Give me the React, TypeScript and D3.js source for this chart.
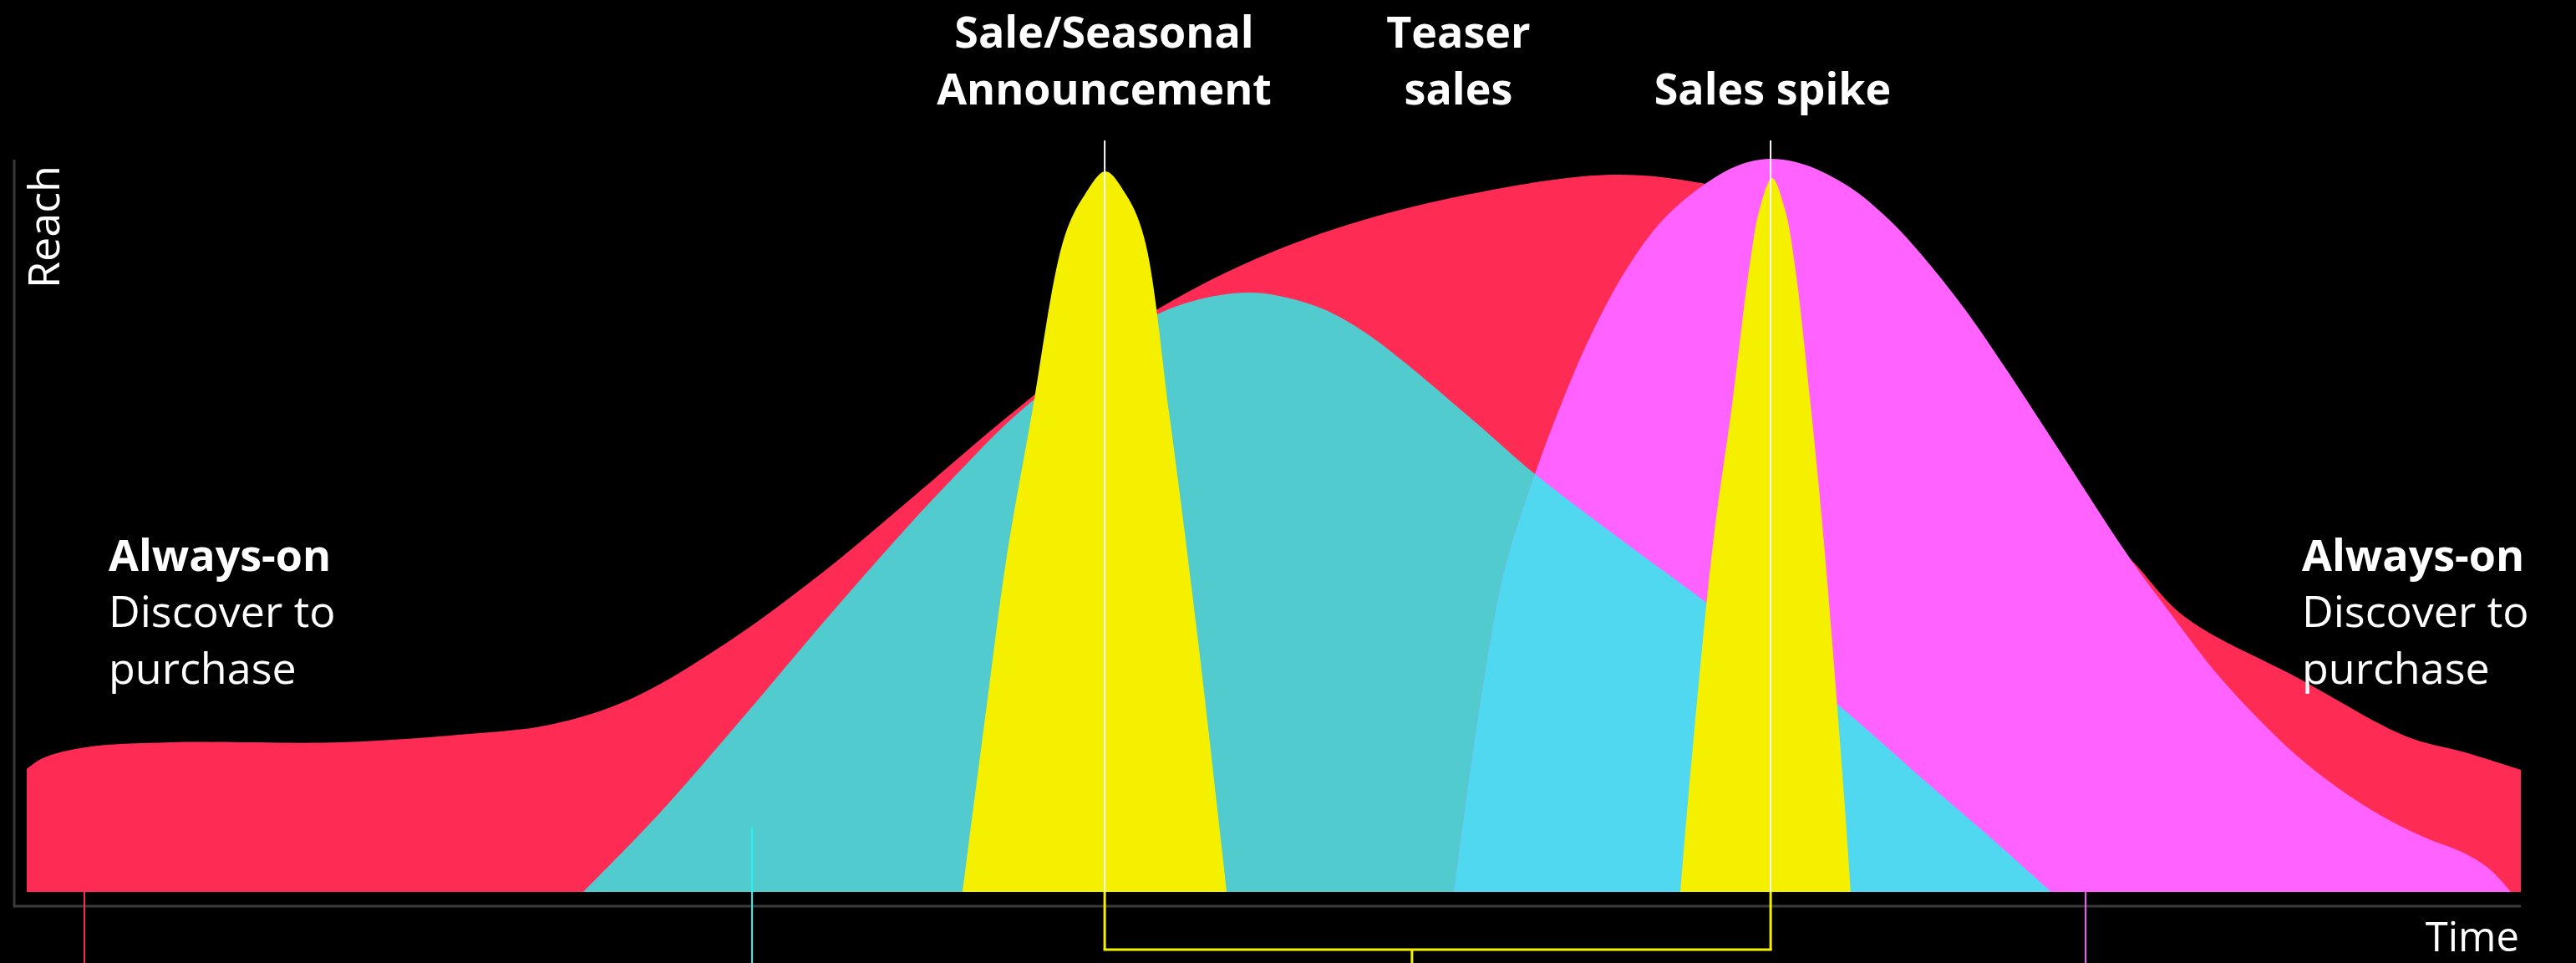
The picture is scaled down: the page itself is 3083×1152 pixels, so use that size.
import React from 'react';
import * as d3 from 'd3';

const W = 3083;
const H = 1152;

// time (0-100) / reach (0-100) pairs
const alwaysOnSeries: [number, number][] = [
  [0, 16.76], [0.64, 18.24], [2.35, 19.73], [5.76, 20.41], [12.6, 20.41], [17.72, 21.55],
  [20.97, 22.81], [24.15, 26.23], [28.01, 33.87], [31.86, 43.44], [35.44, 53.59], [39.26, 64.65],
  [42.48, 73.2], [45.16, 79.13], [48.51, 85.18], [52.53, 90.54], [57.72, 95.1], [63.55, 97.83],
  [67.3, 96.58], [70.95, 93.16], [75.98, 78.34], [81.01, 56.1], [84.35, 45.38], [86.53, 37.51],
  [91.06, 29.19], [95.41, 21.21], [97.76, 19.04], [100, 16.65],
];

const teaserSeries: [number, number][] = [
  [22.31, 0], [25.43, 10.95], [28.78, 24.06], [32.36, 38.43], [35.44, 50.29], [37.49, 57.7],
  [39.53, 64.65], [42.48, 72.63], [45.26, 78.68], [47.17, 80.96], [49.01, 81.76], [50.52, 81.07],
  [52.16, 79.25], [53.67, 76.28], [55.18, 72.41], [58.16, 63.85], [60.47, 57.01], [64.12, 47.55],
  [66.77, 40.93], [69.61, 33.52], [72.7, 25.31], [75.98, 15.51], [78.66, 7.64], [81.17, 0],
];

const salesSeries: [number, number][] = [
  [57.22, 0], [58.26, 25.43], [59.23, 43.67], [60.47, 57.01], [61.57, 66.93], [62.65, 75.48],
  [64.12, 84.83], [65.63, 91.79], [67.34, 96.69], [68.61, 99.09], [69.88, 100], [71.29, 99.2],
  [73.1, 96.12], [74.64, 91.79], [75.98, 86.89], [77.66, 79.7], [79.33, 71.49], [81.74, 58.95],
  [84.35, 45.38], [86.03, 37.63], [87.7, 30.22], [89.38, 23.95], [91.06, 18.47], [92.73, 14.03],
  [94.41, 10.38], [96.08, 7.53], [97.76, 5.25], [98.76, 3.08], [99.6, 0],
];

const announceSpike: [number, number][] = [
  [37.52, 0], [38.49, 25.43], [39.26, 45.04], [40.27, 64.65], [41.61, 89.4], [42.42, 95.1],
  [43.25, 98.29], [44.08, 95.1], [44.79, 89.4], [45.83, 64.65], [46.97, 34.09], [48.11, 0],
];

const salesSpike: [number, number][] = [
  [66.3, 0], [66.63, 13.34], [67.61, 47.55], [68.38, 66.59], [69.08, 85.52], [69.48, 93.16],
  [69.98, 97.38], [70.49, 93.16], [70.89, 85.52], [71.52, 66.59], [72.06, 47.55], [72.86, 13.34],
  [73.13, 0],
];

// event markers (time)
const announceTime = 43.22;
const salesSpikeTime = 69.92;
const bracketMidTime = 55.54;
const markerTicks = [
  { t: 2.31, color: '#FE2C55', top: 0 },
  { t: 29.08, color: '#25F4EE', top: 8.9 },
  { t: 82.55, color: '#FF62FF', top: 0 },
];

const topLabels = [
  { t: 43.2, lines: ['Sale/Seasonal', 'Announcement'] },
  { t: 57.4, lines: ['Teaser', 'sales'] },
  { t: 70.0, lines: ['', 'Sales spike'] },
];

const sideLabel = ['Always-on', 'Discover to', 'purchase'];

const COLORS = {
  red: '#FE2C55',
  teal: '#51CBCE',
  overlap: '#50D8F0',
  magenta: '#FF62FF',
  yellow: '#F5F000',
  axis: '#3A3A3A',
};

export default function App() {
  const x = d3.scaleLinear().domain([0, 100]).range([32, 3017]);
  const y = d3.scaleLinear().domain([0, 100]).range([1067, 190]);

  const area = d3
    .area<[number, number]>()
    .x((d) => x(d[0]))
    .y0(y(0))
    .y1((d) => y(d[1]))
    .curve(d3.curveCatmullRom.alpha(0.5));

  const font = "'Open Sans', sans-serif";
  const baseY = y(0);

  return (
    <svg
      width={W}
      height={H}
      style={{ position: 'fixed', left: 0, top: 0, display: 'block' }}
    >
      <defs>
        <clipPath id="tealClip">
          <path d={area(teaserSeries) || ''} />
        </clipPath>
      </defs>
      <rect x={0} y={0} width={W} height={H} fill="#000" />

      {/* axes */}
      <line x1={17} x2={17} y1={191} y2={1085} stroke={COLORS.axis} strokeWidth={3} />
      <line x1={16} x2={3017} y1={1084} y2={1084} stroke={COLORS.axis} strokeWidth={3} />

      {/* areas */}
      <path d={area(alwaysOnSeries) || ''} fill={COLORS.red} />
      <path d={area(teaserSeries) || ''} fill={COLORS.teal} />
      <path d={area(salesSeries) || ''} fill={COLORS.magenta} />
      <path d={area(salesSeries) || ''} fill={COLORS.overlap} clipPath="url(#tealClip)" />
      <path d={area(announceSpike) || ''} fill={COLORS.yellow} />
      <path d={area(salesSpike) || ''} fill={COLORS.yellow} />

      {/* ticks below baseline */}
      {markerTicks.map((m, i) => (
        <line
          key={i}
          x1={x(m.t)}
          x2={x(m.t)}
          y1={y(m.top)}
          y2={H}
          stroke={m.color}
          strokeWidth={2}
        />
      ))}

      {/* event lines */}
      {[announceTime, salesSpikeTime].map((t, i) => (
        <g key={i}>
          <line x1={x(t)} x2={x(t)} y1={168} y2={baseY} stroke="#fff" strokeWidth={2} />
          <line x1={x(t)} x2={x(t)} y1={baseY} y2={1136} stroke={COLORS.yellow} strokeWidth={3} />
        </g>
      ))}
      <line
        x1={x(announceTime) - 1.5}
        x2={x(salesSpikeTime) + 1.5}
        y1={1136}
        y2={1136}
        stroke={COLORS.yellow}
        strokeWidth={3}
      />
      <line x1={x(bracketMidTime)} x2={x(bracketMidTime)} y1={1136} y2={H} stroke={COLORS.yellow} strokeWidth={3} />

      {/* top labels */}
      {topLabels.map((l, i) => (
        <text
          key={i}
          x={x(l.t)}
          textAnchor="middle"
          fontFamily={font}
          fontWeight={700}
          fontSize={52}
          fill="#fff"
        >
          <tspan x={x(l.t)} y={57}>{l.lines[0]}</tspan>
          <tspan x={x(l.t)} y={125}>{l.lines[1]}</tspan>
        </text>
      ))}

      {/* side labels */}
      {[130, 2755].map((lx, i) => (
        <text key={i} fontFamily={font} fontSize={52} fill="#fff">
          <tspan x={lx} y={683} fontWeight={700}>{sideLabel[0]}</tspan>
          <tspan x={lx} y={750}>{sideLabel[1]}</tspan>
          <tspan x={lx} y={818}>{sideLabel[2]}</tspan>
        </text>
      ))}

      {/* axis titles */}
      <text
        transform="translate(71,345) rotate(-90)"
        fontFamily={font}
        fontSize={52}
        fill="#fff"
      >
        Reach
      </text>
      <text x={3015} y={1138} textAnchor="end" fontFamily={font} fontSize={49} fill="#fff">
        Time
      </text>
    </svg>
  );
}
